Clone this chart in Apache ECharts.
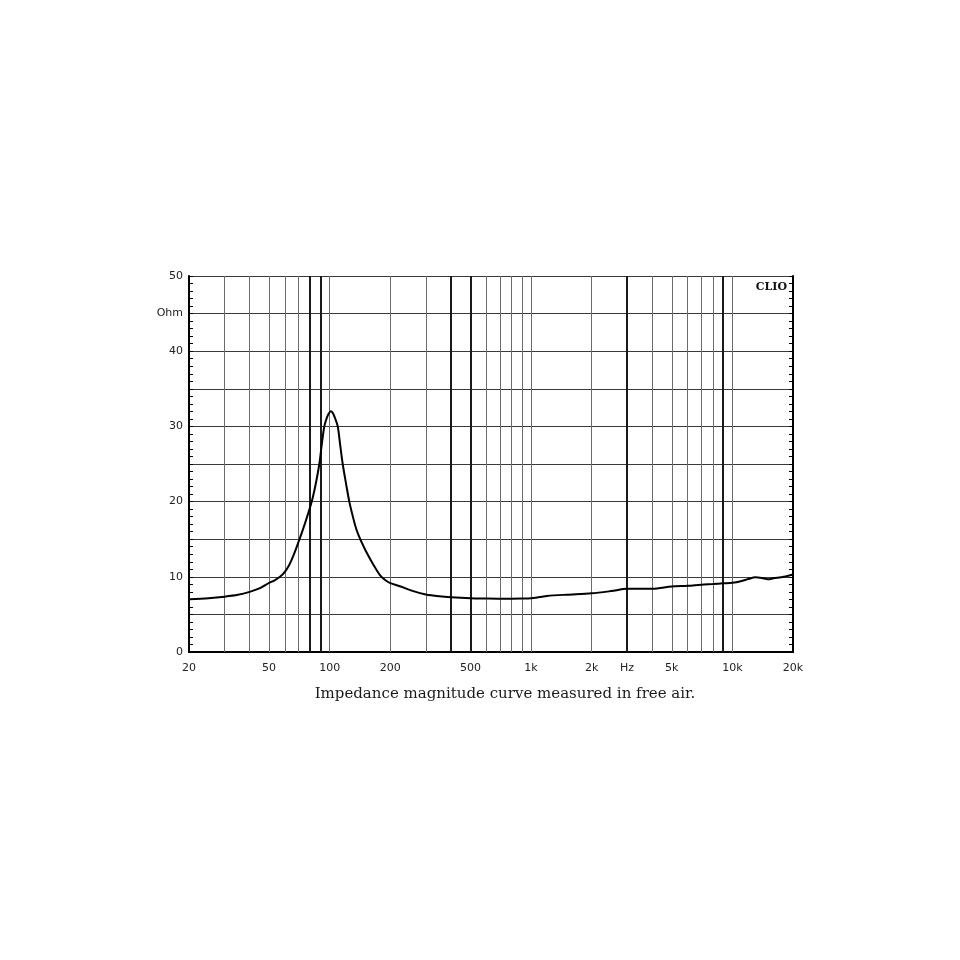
<!DOCTYPE html>
<html>
<head>
<meta charset="utf-8">
<script src="https://cdn.jsdelivr.net/npm/echarts@6/dist/echarts.min.js"></script>
<style>html,body{margin:0;padding:0;background:#fff;}#c{width:960px;height:960px;}</style>
</head>
<body>
<div id="c"></div>
<script>
// Frequencies (Hz) and impedance magnitude (Ohm)
const freqs = [20, 25, 30, 35, 40, 45, 50, 53, 56.6, 60, 63, 66, 70.8, 76, 81.4, 85, 88.8, 91.3, 94, 96.6, 98.9, 101.1, 103.5, 105.9, 109.6, 112.6, 116, 120.5, 125.1, 129.2, 133.6, 138.2, 144, 150, 160, 170, 178, 190, 200, 223, 260, 300, 350, 400, 500, 600, 700, 800, 900, 1000, 1100, 1200, 1500, 2000, 2500, 3000, 4000, 5000, 6000, 7000, 8000, 9000, 10000, 11000, 12000, 13000, 14000, 15000, 16000, 18000, 20000];
const impedance = [7.0, 7.15, 7.35, 7.6, 8.0, 8.5, 9.2, 9.5, 10.0, 10.7, 11.6, 12.8, 15.0, 17.4, 20.0, 22.2, 25.0, 27.6, 30.0, 31.1, 31.7, 32.0, 31.8, 31.2, 30.0, 27.6, 25.0, 22.4, 20.0, 18.4, 16.9, 15.7, 14.6, 13.6, 12.2, 11.0, 10.2, 9.5, 9.15, 8.75, 8.1, 7.65, 7.4, 7.27, 7.14, 7.1, 7.08, 7.08, 7.1, 7.15, 7.3, 7.45, 7.62, 7.8, 8.1, 8.4, 8.4, 8.7, 8.8, 8.95, 9.04, 9.13, 9.2, 9.4, 9.7, 9.93, 9.84, 9.67, 9.8, 10.0, 10.3];
// Vertical grid frequencies
const gridFreqs = [30, 40, 50, 60, 70, 80, 90, 100, 200, 300, 400, 500, 600, 700, 800, 900, 1000, 2000, 3000, 4000, 5000, 6000, 7000, 8000, 9000, 10000];
const darkGridFreqs = [80, 90, 400, 500, 3000, 9000];
// X tick labels
const xTickValues = [20, 50, 100, 200, 500, 1000, 2000, 3000, 5000, 10000, 20000];
const xTickLabels = ['20', '50', '100', '200', '500', '1k', '2k', 'Hz', '5k', '10k', '20k'];
// Y labels
const yLabelValues = [0, 10, 20, 30, 40, 45, 50];
const yLabelTexts = ['0', '10', '20', '30', '40', 'Ohm', '50'];

const chart = echarts.init(document.getElementById('c'), null, {renderer: 'canvas'});
const labelFont = {fontFamily: 'DejaVu Sans', fontSize: 11, color: '#222'};

const option = {
  animation: false,
  backgroundColor: '#fff',
  title: {
    text: 'CLIO', right: 168, top: 277,
    textStyle: {fontFamily: 'DejaVu Serif', fontWeight: 'bold', fontSize: 11, color: '#111'}
  },
  graphic: [{
    type: 'text', x: 505, y: 694,
    style: {text: 'Impedance magnitude curve measured in free air.', font: '15px "DejaVu Serif"', fill: '#1a1a1a', textAlign: 'center', textVerticalAlign: 'middle'}
  }],
  grid: {left: 189, right: 167, top: 276, bottom: 308, containLabel: false},
  xAxis: [{
    type: 'log', logBase: 10, min: 20, max: 20000, position: 'bottom',
    axisLine: {show: true, lineStyle: {color: '#000', width: 2}},
    axisTick: {show: false, customValues: xTickValues},
    splitLine: {show: false},
    axisLabel: Object.assign({
      customValues: xTickValues, margin: 11, hideOverlap: false,
      formatter: function (v) { const i = xTickValues.indexOf(Math.round(v)); return i >= 0 ? xTickLabels[i] : ''; }
    }, labelFont)
  }, {
    type: 'log', logBase: 10, min: 20, max: 20000, position: 'top',
    axisLine: {show: true, lineStyle: {color: '#000', width: 2}},
    axisTick: {show: false}, axisLabel: {show: false}, splitLine: {show: false}
  }],
  yAxis: [{
    type: 'value', min: 0, max: 50, interval: 5, position: 'left',
    axisLine: {show: true, lineStyle: {color: '#000', width: 2}},
    axisTick: {show: true, inside: true, length: 4, lineStyle: {color: '#000'}},
    minorTick: {show: true, splitNumber: 5, length: 4, lineStyle: {color: '#000'}},
    splitLine: {show: true, lineStyle: {color: '#3a3a3a', width: 1}},
    axisLabel: Object.assign({
      margin: 6,
      formatter: function (v) { const i = yLabelValues.indexOf(v); return i >= 0 ? yLabelTexts[i] : ''; }
    }, labelFont)
  }, {
    type: 'value', min: 0, max: 50, interval: 5, position: 'right',
    axisLine: {show: true, lineStyle: {color: '#000', width: 2}},
    axisTick: {show: true, inside: true, length: 4, lineStyle: {color: '#000'}},
    minorTick: {show: true, splitNumber: 5, length: 4, lineStyle: {color: '#000'}},
    splitLine: {show: false}, axisLabel: {show: false}
  }],
  series: [{
    type: 'line',
    data: freqs.map((f, i) => [f, impedance[i]]),
    showSymbol: false, smooth: 0.3,
    lineStyle: {color: '#000', width: 2},
    z: 5,
    markLine: {
      silent: true, symbol: 'none', animation: false,
      label: {show: false},
      data: gridFreqs.map(f => ({
        xAxis: f,
        lineStyle: darkGridFreqs.indexOf(f) >= 0
          ? {color: '#1a1a1a', width: 2, type: 'solid'}
          : {color: '#6e6a66', width: 1, type: 'solid'}
      }))
    }
  }]
};
chart.setOption(option);
</script>
</body>
</html>
